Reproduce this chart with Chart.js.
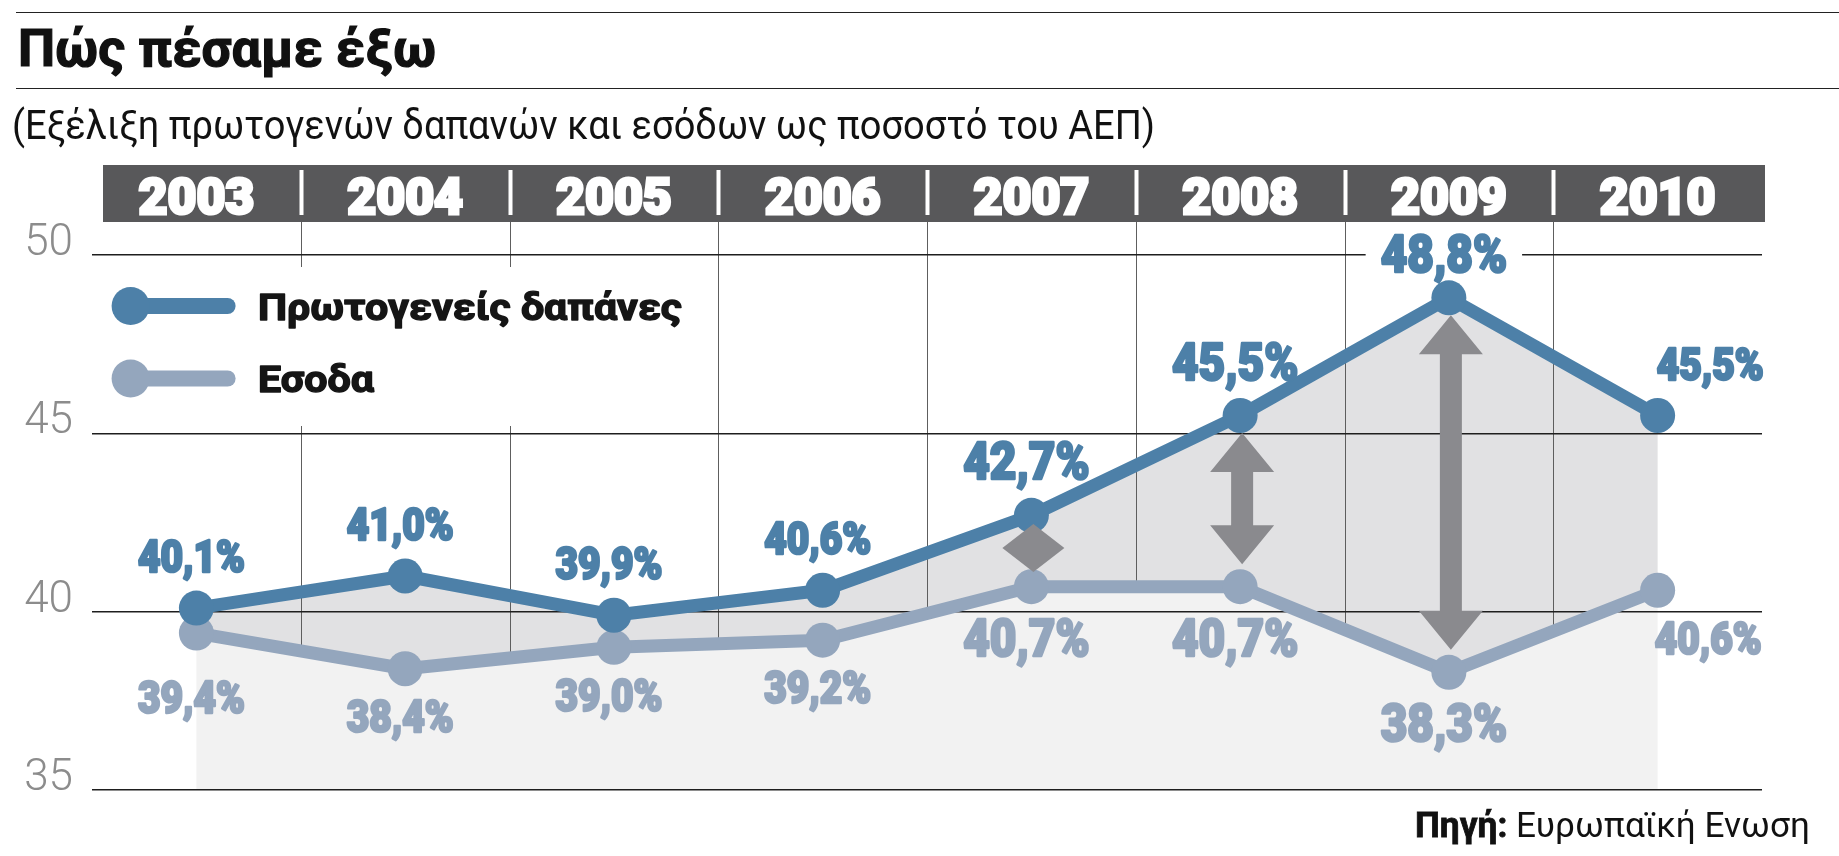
<!DOCTYPE html>
<html>
<head>
<meta charset="utf-8">
<script src="https://cdn.jsdelivr.net/npm/chart.js@4.4.1/dist/chart.umd.min.js"></script>
<style>
html,body{margin:0;padding:0;background:#fff;}
#wrap{position:relative;width:1839px;height:856px;overflow:hidden;background:#fff;}
canvas{position:absolute;left:0;top:0;}
.rule{position:absolute;left:16px;right:0;height:0;border-top:1.5px solid #222;}
.txt{position:absolute;white-space:nowrap;line-height:1;font-family:Roboto,'Noto Sans',sans-serif;color:#111;transform-origin:0 0;}
</style>
</head>
<body>
<div id="wrap">
<canvas id="c" width="1839" height="856"></canvas>
<div class="rule" style="top:12px"></div>
<div class="rule" style="top:88px"></div>
<div class="txt" id="title" style="left:18px;top:23px;font-size:52px;font-weight:700;-webkit-text-stroke:1.2px #111" data-w="418">Πώς πέσαμε έξω</div>
<div class="txt" id="sub" style="left:12px;top:106px;font-size:40px;font-weight:400" data-w="1143">(Εξέλιξη πρωτογενών δαπανών και εσόδων ως ποσοστό του ΑΕΠ)</div>
<div class="txt" id="src" style="right:29px;top:808px;font-size:35px;font-weight:400;transform-origin:100% 0" data-w="395"><b style="-webkit-text-stroke:0.8px #111">Πηγή:</b> Ευρωπαϊκή Ενωση</div>
</div>
<script>
// ---- data ----
const years = ['2003', '2004', '2005', '2006', '2007', '2008', '2009', '2010'];
const spending = [40.1, 41.0, 39.9, 40.6, 42.7, 45.5, 48.8, 45.5];
const revenue = [39.4, 38.4, 39.0, 39.2, 40.7, 40.7, 38.3, 40.6];
const yTicks = [35, 40, 45, 50];
const seriesNames = ['Πρωτογενείς δαπάνες', 'Εσοδα'];
const highlightYears = ['2007', '2008', '2009'];

// ---- styles ----
const C = {
  spend: '#4d80a8', rev: '#94a6bd', darkFill: '#e1e1e3', lightFill: '#f2f2f2',
  bar: '#58585a', grid: '#1e1e1e', vgrid: '#5e5e5e', arrow: '#8a8a8e'
};
const PR = 17.5;

// fit HTML texts to the measured widths
document.querySelectorAll('.txt').forEach(el => {
  const w = el.getBoundingClientRect().width;
  el.style.transform = 'scaleX(' + (parseFloat(el.dataset.w) / w) + ')';
});

function fmt(v) { return v.toFixed(1).replace('.', ',') + '%'; }

function drawText(ctx, text, x, baseline, font, color, align, f, sw) {
  ctx.save();
  ctx.font = font;
  const w = ctx.measureText(text).width * f;
  const left = align === 'left' ? x : x - w / 2;
  ctx.translate(left, baseline);
  ctx.scale(f, 1);
  ctx.fillStyle = color;
  ctx.textAlign = 'left';
  ctx.textBaseline = 'alphabetic';
  if (sw) {
    ctx.strokeStyle = color;
    ctx.lineWidth = sw;
    ctx.lineJoin = 'round';
    ctx.strokeText(text, 0, 0);
  }
  ctx.fillText(text, 0, 0);
  ctx.restore();
  return {left: left, w: w};
}

function dblArrow(ctx, cx, top, bot) {
  const hh = 39, hw = 32, sw = 11;
  ctx.beginPath();
  ctx.moveTo(cx, top);
  ctx.lineTo(cx + hw, top + hh);
  ctx.lineTo(cx + sw, top + hh);
  ctx.lineTo(cx + sw, bot - hh);
  ctx.lineTo(cx + hw, bot - hh);
  ctx.lineTo(cx, bot);
  ctx.lineTo(cx - hw, bot - hh);
  ctx.lineTo(cx - sw, bot - hh);
  ctx.lineTo(cx - sw, top + hh);
  ctx.lineTo(cx - hw, top + hh);
  ctx.closePath();
  ctx.fill();
}

const decor = {
  id: 'decor',
  beforeDraw(chart) {
    const {ctx, chartArea: a, scales: {x, y}} = chart;
    const ms = chart.getDatasetMeta(0).data, mr = chart.getDatasetMeta(1).data;
    const base = y.getPixelForValue(y.min);
    const barTop = a.top - 90, barBot = a.top - 33;
    ctx.save();
    // band between the two series
    ctx.beginPath();
    ms.forEach((p, i) => i ? ctx.lineTo(p.x, p.y) : ctx.moveTo(p.x, p.y));
    for (let i = mr.length - 1; i >= 0; i--) ctx.lineTo(mr[i].x, mr[i].y);
    ctx.closePath();
    ctx.fillStyle = C.darkFill;
    ctx.fill();
    // vertical separators between years
    const seps = [];
    for (let i = 0; i < years.length - 1; i++) {
      seps.push(Math.round((x.getPixelForValue(i) + x.getPixelForValue(i + 1)) / 2));
    }
    ctx.strokeStyle = C.vgrid;
    ctx.lineWidth = 1;
    seps.forEach(sx => {
      ctx.beginPath();
      ctx.moveTo(sx + 0.5, barBot);
      ctx.lineTo(sx + 0.5, base);
      ctx.stroke();
    });
    // area under revenue
    ctx.beginPath();
    mr.forEach((p, i) => i ? ctx.lineTo(p.x, p.y) : ctx.moveTo(p.x, p.y));
    ctx.lineTo(mr[mr.length - 1].x, base);
    ctx.lineTo(mr[0].x, base);
    ctx.closePath();
    ctx.fillStyle = C.lightFill;
    ctx.fill();
    // header band with years
    ctx.fillStyle = C.bar;
    ctx.fillRect(a.left + 11, barTop, (a.right + 3) - (a.left + 11), barBot - barTop);
    ctx.fillStyle = '#fff';
    seps.forEach(sx => ctx.fillRect(sx - 1.5, barTop + 5, 4, barBot - barTop - 12));
    ctx.restore();
  },
  afterDatasetsDraw(chart) {
    const {ctx, chartArea: a, scales: {x, y}} = chart;
    const ms = chart.getDatasetMeta(0).data, mr = chart.getDatasetMeta(1).data;
    const colors = [C.spend, C.rev];
    ctx.save();

    // ---- legend ----
    ctx.fillStyle = '#fff';
    ctx.fillRect(a.left + 8, a.top + 12, 600, 159);
    ctx.font = '700 37px Roboto';
    const lf = 424 / ctx.measureText(seriesNames[0]).width;
    seriesNames.forEach((name, k) => {
      const cy = a.top + 51 + k * 72.5;
      const cx = a.left + 38.6;
      ctx.strokeStyle = colors[k];
      ctx.lineWidth = 16;
      ctx.lineCap = 'round';
      ctx.beginPath();
      ctx.moveTo(cx, cy);
      ctx.lineTo(cx + 97, cy);
      ctx.stroke();
      ctx.fillStyle = colors[k];
      ctx.beginPath();
      ctx.arc(cx, cy, 19, 0, Math.PI * 2);
      ctx.fill();
      drawText(ctx, name, a.left + 166, cy + 13.5, '700 37px Roboto', '#151515', 'left', lf, 1.4);
    });

    // ---- gap arrows ----
    ctx.fillStyle = C.arrow;
    years.forEach((yr, i) => {
      if (highlightYears.indexOf(yr) < 0) return;
      const cx = ms[i].x + 2;
      const top = ms[i].y + PR, bot = mr[i].y - PR - 5;
      if (bot - top < 90) {
        const cy = (ms[i].y + mr[i].y) / 2 - 3;
        ctx.beginPath();
        ctx.moveTo(cx, cy - 24);
        ctx.lineTo(cx + 31, cy);
        ctx.lineTo(cx, cy + 24);
        ctx.lineTo(cx - 31, cy);
        ctx.closePath();
        ctx.fill();
      } else {
        dblArrow(ctx, cx, top, bot);
      }
    });

    // ---- value labels ----
    ctx.font = '900 44px Roboto';
    const f = 107 / ctx.measureText('40,1%').width;
    const SW = 2.6;
    const barBot = a.top - 33;
    const last = years.length - 1;
    years.forEach((yr, i) => {
      const big = highlightYears.indexOf(yr) >= 0;
      const size = big ? 52 : 44;
      const capH = size * 0.711;
      const font = '900 ' + size + 'px Roboto';
      const align = i === last ? 'left' : 'center';
      const lx = i === last ? ms[i].x - 1 : ms[i].x - 5;
      // spending above
      let capTop = Math.max(ms[i].y - 36 - capH, barBot + 13);
      let bl = capTop + capH;
      ctx.font = font;
      const w = ctx.measureText(fmt(spending[i])).width * f;
      const left = align === 'left' ? lx : lx - w / 2;
      const crosses = yTicks.some(v => {
        const py = y.getPixelForValue(v);
        return py > capTop - 4 && py < bl + 8;
      });
      if (crosses) {
        ctx.fillStyle = '#fff';
        ctx.fillRect(left - 15, capTop - 6, w + 30, capH + 14);
      }
      drawText(ctx, fmt(spending[i]), lx, bl, font, C.spend, align, f, SW);
      // revenue below (pushed further when the two markers nearly coincide)
      const rx = i === last ? mr[i].x - 3 : mr[i].x - 5;
      const overlap = (mr[i].y - ms[i].y) < 30;
      const rTop = mr[i].y + 32 + (overlap ? 17 : 0);
      drawText(ctx, fmt(revenue[i]), rx, rTop + capH, font, C.rev, align, f, SW);
    });
    ctx.restore();
  }
};

function ds(label, values, color) {
  return {
    label: label, data: values, borderColor: color, backgroundColor: color,
    pointBackgroundColor: color, pointBorderWidth: 0, borderWidth: 13,
    pointRadius: PR, pointHoverRadius: PR, fill: false, tension: 0,
    borderJoinStyle: 'round', borderCapStyle: 'round'
  };
}

new Chart(document.getElementById('c'), {
  type: 'line',
  data: {
    labels: years,
    datasets: [ds(seriesNames[0], spending, C.spend), ds(seriesNames[1], revenue, C.rev)]
  },
  options: {
    responsive: false,
    animation: false,
    devicePixelRatio: 1,
    events: [],
    layout: {padding: {left: 0, top: 0, right: 77, bottom: 66}, autoPadding: false},
    plugins: {legend: {display: false}, tooltip: {enabled: false}, title: {display: false}},
    scales: {
      x: {
        position: 'top', offset: true,
        grid: {display: false}, border: {display: false},
        ticks: {color: '#ffffff', textStrokeColor: '#ffffff', textStrokeWidth: 3,
                font: {family: 'Roboto', weight: 900, size: 50}, padding: 16, maxRotation: 0, autoSkip: false},
        afterFit(s) { s.height = 255; }
      },
      y: {
        min: 35, max: 50,
        grid: {color: C.grid, lineWidth: 1.5, drawTicks: false},
        border: {display: false},
        ticks: {color: '#8c8c8c', font: {family: 'Roboto', weight: 300, size: 44}, padding: 19, labelOffset: -11},
        afterBuildTicks(s) { s.ticks = yTicks.map(v => ({value: v})); },
        afterFit(s) { s.width = 92; }
      }
    }
  },
  plugins: [decor]
});
</script>
</body>
</html>
